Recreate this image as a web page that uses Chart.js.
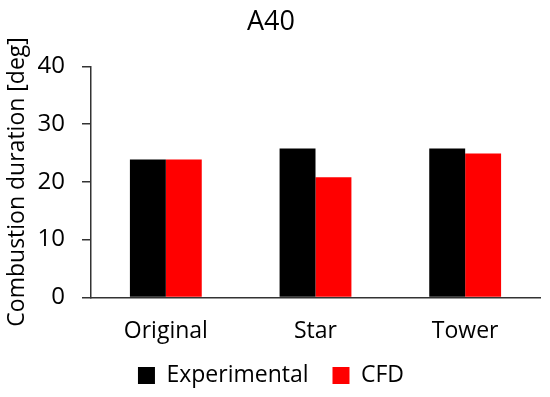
<!DOCTYPE html>
<html>
<head>
<meta charset="utf-8">
<script src="https://cdn.jsdelivr.net/npm/chart.js@4/dist/chart.umd.min.js"></script>
<style>
  body { margin: 0; background: #fff; }
  #wrap { width: 550px; height: 397px; }
</style>
</head>
<body>
<div id="wrap"><canvas id="grafico"></canvas></div>
<script>
const categorias = ["Original", "Star", "Tower"];
const experimental = [23.9, 25.8, 25.8];
const cfd = [23.9, 20.8, 24.9];
const ticksY = [0, 10, 20, 30, 40];

const fonte = "'Open Sans', 'Liberation Sans', sans-serif";

var ctx = document.getElementById("grafico").getContext("2d");
var myChart = new Chart(ctx, {
  type: "bar",
  data: {
    labels: categorias,
    datasets: [
      { label: "Experimental", data: experimental, backgroundColor: "#000000" },
      { label: "CFD", data: cfd, backgroundColor: "#ff0000" },
    ],
  },
  options: {
    responsive: true,
    maintainAspectRatio: false,
    animation: false,
    layout: { padding: { top: 0, right: 10, bottom: 0, left: 2 } },
    datasets: {
      bar: { categoryPercentage: 0.48, barPercentage: 1.0 },
    },
    plugins: {
      title: {
        display: true,
        text: "A40",
        color: "#000",
        font: { family: fonte, size: 27, weight: "normal" },
        padding: { top: 6, bottom: 28 },
      },
      legend: {
        position: "bottom",
        labels: {
          color: "#000",
          font: { family: fonte, size: 23 },
          boxWidth: 17,
          boxHeight: 17,
          padding: 6,
          // espaco extra entre os itens, como no original
          generateLabels: (chart) => {
            const itens = Chart.defaults.plugins.legend.labels.generateLabels(chart);
            itens[0].text = itens[0].text + "\u00a0\u00a0\u00a0";
            return itens;
          },
        },
      },
      tooltip: { enabled: false },
    },
    scales: {
      x: {
        afterFit: (axis) => {
          axis.height = axis.height - 7;
        },
        grid: { display: false, drawTicks: false },
        border: { color: "#333", width: 1.5 },
        ticks: { color: "#000", font: { family: fonte, size: 23 }, padding: 20 },
      },
      y: {
        min: 0,
        max: 40,
        afterBuildTicks: (axis) => {
          axis.ticks = ticksY.map((v) => ({ value: v }));
        },
        afterFit: (axis) => {
          axis.width = 89;
        },
        grid: { display: true, drawOnChartArea: false, drawTicks: true, tickLength: 9, color: "#333", lineWidth: 1.5 },
        border: { color: "#333", width: 1.5 },
        ticks: { color: "#000", font: { family: fonte, size: 24 }, padding: 17 },
        title: {
          display: true,
          text: "Combustion duration [deg]",
          color: "#000",
          font: { family: fonte, size: 23 },
          padding: { top: 2, bottom: 2 },
        },
      },
    },
  },
});
</script>
</body>
</html>
